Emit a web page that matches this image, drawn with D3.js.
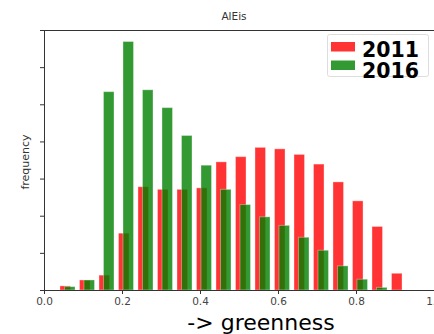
<!DOCTYPE html>
<html>
<head>
<meta charset="utf-8">
<script src="https://cdn.jsdelivr.net/npm/d3@7"></script>
<style>
  body { margin: 0; background: #fff; }
  svg { display: block; font-family: "DejaVu Sans", sans-serif; }
</style>
</head>
<body>
<svg id="chart" width="434" height="334"></svg>
<script>
// histogram bins (left of each 0.05 bin)
var bins = [0.05, 0.10, 0.15, 0.20, 0.25, 0.30, 0.35, 0.40, 0.45,
            0.50, 0.55, 0.60, 0.65, 0.70, 0.75, 0.80, 0.85, 0.90];
var freq2011 = [0.11, 0.27, 0.40, 1.53, 2.78, 2.71, 2.71, 2.75, 3.45,
                3.59, 3.84, 3.80, 3.65, 3.39, 2.91, 2.40, 1.71, 0.45];
var freq2016 = [0.09, 0.27, 5.34, 6.69, 5.39, 4.91, 4.16, 3.36, 2.71,
                2.30, 1.97, 1.74, 1.42, 1.07, 0.65, 0.29, 0.07, 0];
var xTicks = [0, 0.2, 0.4, 0.6, 0.8, 1.0];
var yTicks = [0, 1, 2, 3, 4, 5, 6, 7];
var seriesNames = ["2011", "2016"];

var svg = d3.select("#chart");
var plotLeft = 44, plotRight = 434, plotTop = 30, plotBottom = 290;

var x = d3.scaleLinear().domain([0, 1]).range([plotLeft, plotRight]);
var y = d3.scaleLinear().domain([0, 7]).range([plotBottom, plotTop]);

var barW = 0.027;
var series = [
  { name: seriesNames[0], values: freq2011, color: "red", off: -0.009 },
  { name: seriesNames[1], values: freq2016, color: "green", off: 0.0025 }
];

series.forEach(function(s) {
  svg.append("g")
    .selectAll("rect")
    .data(bins)
    .enter().append("rect")
    .attr("x", function(d) { return x(d + s.off); })
    .attr("y", function(d, i) { return y(s.values[i]); })
    .attr("width", function(d) { return x(d + s.off + barW) - x(d + s.off); })
    .attr("height", function(d, i) { return y(0) - y(s.values[i]); })
    .attr("fill", s.color)
    .attr("fill-opacity", 0.8)
    .attr("stroke", "#fff")
    .attr("stroke-opacity", 0.35)
    .attr("stroke-width", 1);
});

// axes
var xAxis = svg.append("g")
  .attr("transform", "translate(0," + plotBottom + ")")
  .call(d3.axisBottom(x).tickValues(xTicks).tickSize(4).tickPadding(4)
    .tickFormat(function(d) { return d === 1 ? "1.0" : d3.format(".1f")(d); }));
xAxis.select(".domain").attr("stroke", "#333");
xAxis.selectAll(".tick line").attr("stroke", "#333");
xAxis.selectAll("text").attr("font-size", 10.5).attr("fill", "#444")
  .attr("font-family", "DejaVu Sans");

var yAxis = svg.append("g")
  .attr("transform", "translate(" + plotLeft + ",0)")
  .call(d3.axisLeft(y).tickValues(yTicks).tickSize(4).tickFormat(""));
yAxis.select(".domain").attr("stroke", "#333");
yAxis.selectAll(".tick line").attr("stroke", "#333");

// top spine
svg.append("line")
  .attr("x1", plotLeft).attr("x2", plotRight)
  .attr("y1", plotTop + 0.5).attr("y2", plotTop + 0.5)
  .attr("stroke", "#333");

// title
svg.append("text")
  .attr("x", (plotLeft + plotRight) / 2 - 5)
  .attr("y", 20)
  .attr("text-anchor", "middle")
  .attr("font-size", 10.5)
  .attr("fill", "#333")
  .text("AlEis");

// y label
svg.append("text")
  .attr("transform", "translate(29,162) rotate(-90)")
  .attr("text-anchor", "middle")
  .attr("font-size", 11)
  .attr("fill", "#333")
  .text("frequency");

// x label
svg.append("text")
  .attr("x", 261)
  .attr("y", 330)
  .attr("text-anchor", "middle")
  .attr("font-size", 22)
  .attr("fill", "#000")
  .text("-> greenness");

// legend
var legend = svg.append("g");
legend.append("rect")
  .attr("x", 327.5).attr("y", 34.5)
  .attr("width", 101).attr("height", 42)
  .attr("rx", 2)
  .attr("fill", "#fff").attr("fill-opacity", 0.8)
  .attr("stroke", "#ddd");

series.forEach(function(s, i) {
  legend.append("rect")
    .attr("x", 331).attr("y", 42 + i * 18.5)
    .attr("width", 24).attr("height", 9.5)
    .attr("fill", s.color).attr("fill-opacity", 0.8);
  legend.append("text")
    .attr("x", 362).attr("y", 56.5 + i * 21.5)
    .attr("font-size", 20.5)
    .attr("font-weight", "bold")
    .attr("fill", "#000")
    .text(s.name);
});
</script>
</body>
</html>
